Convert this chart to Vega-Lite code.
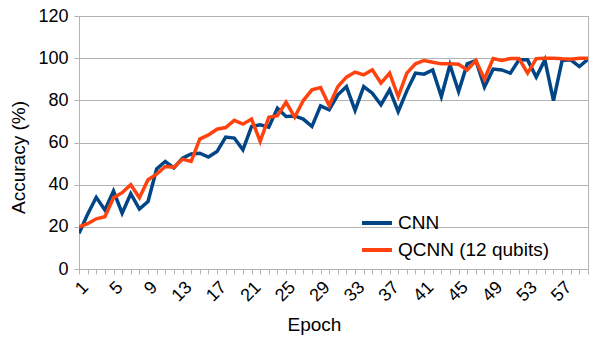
{
  "$schema": "https://vega.github.io/schema/vega-lite/v6.json",
  "width": 509,
  "height": 253,
  "autosize": {"type": "none"},
  "padding": {"left": 79, "top": 16, "right": 17, "bottom": 71},
  "background": "white",
  "config": {
    "font": "Liberation Sans",
    "view": {"stroke": "#b3b3b3", "strokeWidth": 1},
    "axis": {
      "domainColor": "#b3b3b3",
      "tickColor": "#b3b3b3",
      "gridColor": "#b3b3b3",
      "tickSize": 5,
      "labelColor": "#000000",
      "titleColor": "#000000",
      "labelFont": "Liberation Sans",
      "titleFont": "Liberation Sans",
      "labelFontSize": 18,
      "titleFontSize": 19,
      "titleFontWeight": "normal"
    },
    "legend": {
      "labelFont": "Liberation Sans",
      "labelFontSize": 19,
      "labelColor": "#000000"
    }
  },
  "data": {
    "values": [
      {"epoch":1,"model":"CNN","acc":17},{"epoch":2,"model":"CNN","acc":26},{"epoch":3,"model":"CNN","acc":34},{"epoch":4,"model":"CNN","acc":28},{"epoch":5,"model":"CNN","acc":37},
      {"epoch":6,"model":"CNN","acc":26.5},{"epoch":7,"model":"CNN","acc":35.7},{"epoch":8,"model":"CNN","acc":28.4},{"epoch":9,"model":"CNN","acc":32},{"epoch":10,"model":"CNN","acc":47.5},
      {"epoch":11,"model":"CNN","acc":51},{"epoch":12,"model":"CNN","acc":48},{"epoch":13,"model":"CNN","acc":52.6},{"epoch":14,"model":"CNN","acc":54.6},{"epoch":15,"model":"CNN","acc":54.9},
      {"epoch":16,"model":"CNN","acc":53.1},{"epoch":17,"model":"CNN","acc":55.7},{"epoch":18,"model":"CNN","acc":62.6},{"epoch":19,"model":"CNN","acc":62.1},{"epoch":20,"model":"CNN","acc":56.5},
      {"epoch":21,"model":"CNN","acc":67.6},{"epoch":22,"model":"CNN","acc":68.4},{"epoch":23,"model":"CNN","acc":67.3},{"epoch":24,"model":"CNN","acc":76.3},{"epoch":25,"model":"CNN","acc":72.3},
      {"epoch":26,"model":"CNN","acc":72.6},{"epoch":27,"model":"CNN","acc":71.1},{"epoch":28,"model":"CNN","acc":67.6},{"epoch":29,"model":"CNN","acc":77.4},{"epoch":30,"model":"CNN","acc":75.5},
      {"epoch":31,"model":"CNN","acc":82.6},{"epoch":32,"model":"CNN","acc":86.5},{"epoch":33,"model":"CNN","acc":75.2},{"epoch":34,"model":"CNN","acc":86.5},{"epoch":35,"model":"CNN","acc":83.4},
      {"epoch":36,"model":"CNN","acc":77.9},{"epoch":37,"model":"CNN","acc":85},{"epoch":38,"model":"CNN","acc":74.7},{"epoch":39,"model":"CNN","acc":84.5},{"epoch":40,"model":"CNN","acc":92.9},
      {"epoch":41,"model":"CNN","acc":92.4},{"epoch":42,"model":"CNN","acc":94.4},{"epoch":43,"model":"CNN","acc":81.8},{"epoch":44,"model":"CNN","acc":96.8},{"epoch":45,"model":"CNN","acc":84.2},
      {"epoch":46,"model":"CNN","acc":97.3},{"epoch":47,"model":"CNN","acc":98.9},{"epoch":48,"model":"CNN","acc":86.3},{"epoch":49,"model":"CNN","acc":94.8},{"epoch":50,"model":"CNN","acc":94.4},
      {"epoch":51,"model":"CNN","acc":92.9},{"epoch":52,"model":"CNN","acc":99.2},{"epoch":53,"model":"CNN","acc":99.2},{"epoch":54,"model":"CNN","acc":91},{"epoch":55,"model":"CNN","acc":99.2},
      {"epoch":56,"model":"CNN","acc":79.9},{"epoch":57,"model":"CNN","acc":98.9},{"epoch":58,"model":"CNN","acc":99.2},{"epoch":59,"model":"CNN","acc":96},{"epoch":60,"model":"CNN","acc":99.5},
      {"epoch":1,"model":"QCNN (12 qubits)","acc":20},{"epoch":2,"model":"QCNN (12 qubits)","acc":21.5},{"epoch":3,"model":"QCNN (12 qubits)","acc":23.8},{"epoch":4,"model":"QCNN (12 qubits)","acc":24.8},{"epoch":5,"model":"QCNN (12 qubits)","acc":33.8},
      {"epoch":6,"model":"QCNN (12 qubits)","acc":36.2},{"epoch":7,"model":"QCNN (12 qubits)","acc":40},{"epoch":8,"model":"QCNN (12 qubits)","acc":33.8},{"epoch":9,"model":"QCNN (12 qubits)","acc":42.3},{"epoch":10,"model":"QCNN (12 qubits)","acc":45},
      {"epoch":11,"model":"QCNN (12 qubits)","acc":48.6},{"epoch":12,"model":"QCNN (12 qubits)","acc":48.3},{"epoch":13,"model":"QCNN (12 qubits)","acc":52.1},{"epoch":14,"model":"QCNN (12 qubits)","acc":51},{"epoch":15,"model":"QCNN (12 qubits)","acc":61.6},
      {"epoch":16,"model":"QCNN (12 qubits)","acc":63.6},{"epoch":17,"model":"QCNN (12 qubits)","acc":66.3},{"epoch":18,"model":"QCNN (12 qubits)","acc":67.1},{"epoch":19,"model":"QCNN (12 qubits)","acc":70.5},{"epoch":20,"model":"QCNN (12 qubits)","acc":68.7},
      {"epoch":21,"model":"QCNN (12 qubits)","acc":71.1},{"epoch":22,"model":"QCNN (12 qubits)","acc":60.5},{"epoch":23,"model":"QCNN (12 qubits)","acc":72},{"epoch":24,"model":"QCNN (12 qubits)","acc":72.7},{"epoch":25,"model":"QCNN (12 qubits)","acc":79.1},
      {"epoch":26,"model":"QCNN (12 qubits)","acc":72},{"epoch":27,"model":"QCNN (12 qubits)","acc":79.9},{"epoch":28,"model":"QCNN (12 qubits)","acc":85},{"epoch":29,"model":"QCNN (12 qubits)","acc":86.1},{"epoch":30,"model":"QCNN (12 qubits)","acc":77.5},
      {"epoch":31,"model":"QCNN (12 qubits)","acc":86.5},{"epoch":32,"model":"QCNN (12 qubits)","acc":91},{"epoch":33,"model":"QCNN (12 qubits)","acc":93.4},{"epoch":34,"model":"QCNN (12 qubits)","acc":92.1},{"epoch":35,"model":"QCNN (12 qubits)","acc":94.5},
      {"epoch":36,"model":"QCNN (12 qubits)","acc":88.2},{"epoch":37,"model":"QCNN (12 qubits)","acc":92.9},{"epoch":38,"model":"QCNN (12 qubits)","acc":81.8},{"epoch":39,"model":"QCNN (12 qubits)","acc":92.9},{"epoch":40,"model":"QCNN (12 qubits)","acc":97.3},
      {"epoch":41,"model":"QCNN (12 qubits)","acc":98.9},{"epoch":42,"model":"QCNN (12 qubits)","acc":98.1},{"epoch":43,"model":"QCNN (12 qubits)","acc":97.3},{"epoch":44,"model":"QCNN (12 qubits)","acc":97.3},{"epoch":45,"model":"QCNN (12 qubits)","acc":97.1},
      {"epoch":46,"model":"QCNN (12 qubits)","acc":94.4},{"epoch":47,"model":"QCNN (12 qubits)","acc":98.9},{"epoch":48,"model":"QCNN (12 qubits)","acc":90},{"epoch":49,"model":"QCNN (12 qubits)","acc":99.8},{"epoch":50,"model":"QCNN (12 qubits)","acc":98.9},
      {"epoch":51,"model":"QCNN (12 qubits)","acc":99.8},{"epoch":52,"model":"QCNN (12 qubits)","acc":99.8},{"epoch":53,"model":"QCNN (12 qubits)","acc":92.9},{"epoch":54,"model":"QCNN (12 qubits)","acc":99.8},{"epoch":55,"model":"QCNN (12 qubits)","acc":100},
      {"epoch":56,"model":"QCNN (12 qubits)","acc":100},{"epoch":57,"model":"QCNN (12 qubits)","acc":99.7},{"epoch":58,"model":"QCNN (12 qubits)","acc":99.5},{"epoch":59,"model":"QCNN (12 qubits)","acc":100},{"epoch":60,"model":"QCNN (12 qubits)","acc":100}
    ]
  },
  "mark": {"type": "line", "strokeWidth": 3.5, "strokeJoin": "miter", "clip": true},
  "encoding": {
    "x": {
      "field": "epoch",
      "type": "quantitative",
      "scale": {"domain": [1, 60], "nice": false, "zero": false},
      "axis": {
        "title": "Epoch",
        "grid": false,
        "values": [1,2,3,4,5,6,7,8,9,10,11,12,13,14,15,16,17,18,19,20,21,22,23,24,25,26,27,28,29,30,31,32,33,34,35,36,37,38,39,40,41,42,43,44,45,46,47,48,49,50,51,52,53,54,55,56,57,58,59,60],
        "labelExpr": "(datum.value - 1) % 4 == 0 ? datum.label : ''",
        "labelAngle": -45,
        "labelAlign": "right",
        "labelBaseline": "top",
        "labelPadding": 4,
        "labelOverlap": false,
        "labelFlush": false,
        "titleX": 235,
        "titleY": 61,
        "titleBaseline": "alphabetic",
        "titleAnchor": "middle"
      }
    },
    "y": {
      "field": "acc",
      "type": "quantitative",
      "scale": {"domain": [0, 120], "nice": false},
      "axis": {
        "title": "Accuracy (%)",
        "values": [0, 20, 40, 60, 80, 100, 120],
        "labelPadding": 6,
        "titleX": -61,
        "titleY": 141,
        "titleBaseline": "middle",
        "titleAnchor": "middle"
      }
    },
    "color": {
      "field": "model",
      "type": "nominal",
      "scale": {"domain": ["CNN", "QCNN (12 qubits)"], "range": ["#004586", "#ff420e"]},
      "legend": {
        "title": null,
        "orient": "none",
        "legendX": 281,
        "legendY": 190,
        "symbolType": "stroke",
        "symbolSize": 900,
        "symbolStrokeWidth": 4,
        "labelOffset": 4,
        "rowPadding": 0
      }
    }
  }
}
